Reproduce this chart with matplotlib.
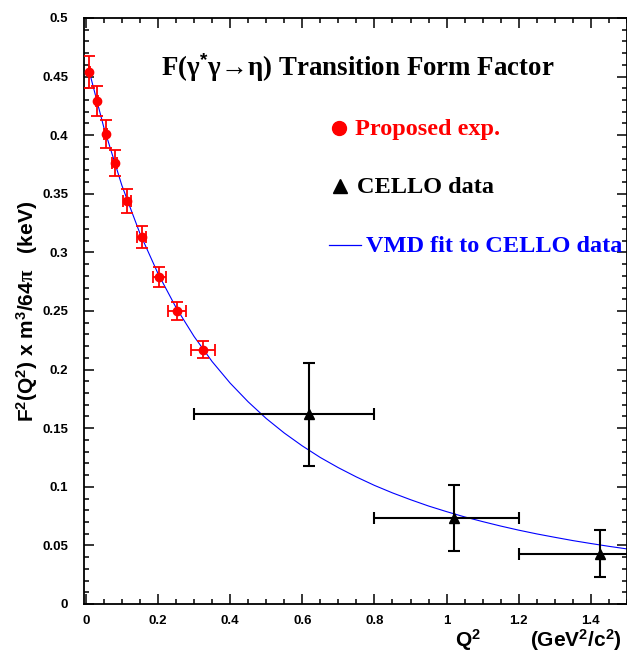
import numpy as np
import matplotlib
matplotlib.use("Agg")
import matplotlib.pyplot as plt
from matplotlib.lines import Line2D
from matplotlib.ticker import MultipleLocator, FuncFormatter

plt.rcParams['font.family'] = ['Liberation Sans', 'DejaVu Sans']
plt.rcParams['font.weight'] = 'bold'
plt.rcParams['mathtext.fontset'] = 'custom'
plt.rcParams['mathtext.rm'] = 'Liberation Sans:bold'
plt.rcParams['mathtext.bf'] = 'Liberation Sans:bold'
plt.rcParams['mathtext.it'] = 'Liberation Serif:bold'

# proposed experiment (red)
prop_q2 = [0.010, 0.031, 0.055, 0.080, 0.114, 0.155, 0.204, 0.254, 0.325]
prop_f = [0.454, 0.429, 0.401, 0.376, 0.344, 0.313, 0.279, 0.250, 0.217]
prop_ferr = [0.0135, 0.013, 0.012, 0.011, 0.010, 0.0095, 0.0087, 0.008, 0.007]
prop_qerr = [0.002, 0.004, 0.005, 0.007, 0.011, 0.013, 0.019, 0.025, 0.033]

# CELLO data (black)
cello_q2 = [0.62, 1.02, 1.425]
cello_f = [0.162, 0.0735, 0.043]
cello_ferr = [0.044, 0.028, 0.020]
cello_qlo = [0.32, 0.22, 0.225]
cello_qhi = [0.18, 0.18, 0.175]

# VMD fit curve
fit_q2 = [0.01, 0.05, 0.10, 0.15, 0.20, 0.25, 0.30, 0.35, 0.40, 0.45, 0.50,
          0.55, 0.60, 0.65, 0.70, 0.75, 0.80, 0.85, 0.90, 0.95, 1.00,
          1.05, 1.10, 1.15, 1.20, 1.25, 1.30, 1.35, 1.40, 1.45, 1.50]
fit_f = [0.4539, 0.4066, 0.3571, 0.3162, 0.2820, 0.2530, 0.2283, 0.2069, 0.1885, 0.1725, 0.1583,
         0.1459, 0.1349, 0.1250, 0.1163, 0.1084, 0.1012, 0.0948, 0.0890, 0.0836, 0.0788,
         0.0743, 0.0703, 0.0665, 0.0630, 0.0598, 0.0569, 0.0541, 0.0516, 0.0492, 0.0470]

W, H = 627, 653
serif = ['Liberation Serif', 'DejaVu Serif']


def px(x, y):
    return x / W, 1 - y / H


fig = plt.figure(figsize=(W / 100, H / 100), dpi=100)
ax = fig.add_axes([84 / W, 1 - 604 / H, 543 / W, 586 / H])

ax.plot(fit_q2, fit_f, color='#0000ff', lw=0.8, zorder=2)
ax.errorbar(prop_q2, prop_f, yerr=prop_ferr, xerr=prop_qerr, fmt='o', color='red',
            ms=6, elinewidth=1.3, capsize=4, capthick=1.3, zorder=3)
ax.errorbar(cello_q2, cello_f, yerr=cello_ferr, xerr=[cello_qlo, cello_qhi], fmt='^',
            color='black', ms=7, elinewidth=1.5, capsize=4.5, capthick=1.5, zorder=3)

ax.set_xlim(-0.005, 1.5)
ax.set_ylim(0, 0.5)
ax.xaxis.set_major_locator(MultipleLocator(0.2))
ax.xaxis.set_minor_locator(MultipleLocator(0.05))
ax.yaxis.set_major_locator(MultipleLocator(0.05))
ax.yaxis.set_minor_locator(MultipleLocator(0.01))
fmt = FuncFormatter(lambda v, p: '%g' % round(v, 6))
ax.xaxis.set_major_formatter(fmt)
ax.yaxis.set_major_formatter(fmt)
ax.tick_params(which='both', direction='in', top=True, right=True, width=1.1, labelsize=9.5)
ax.tick_params(which='major', length=7)
ax.tick_params(which='minor', length=3.8)
ax.tick_params(axis='y', pad=11.5)
ax.tick_params(axis='x', pad=8)
for s in ax.spines.values():
    s.set_linewidth(1.3)

# title
fig.text(*px(161, 76), r'F($\gamma^{*}$γ→η) Transition Form Factor',
         family=serif, weight='bold', fontsize=19.4, va='baseline')

# legend
fig.add_artist(Line2D([px(339, 0)[0]], [px(0, 128)[1]], marker='o', color='red', ms=10, ls=''))
fig.text(*px(355, 135.5), 'Proposed exp.', family=serif, weight='bold',
         fontsize=17.5, color='red', va='baseline')
fig.add_artist(Line2D([px(340, 0)[0]], [px(0, 186)[1]], marker='^', color='black', ms=10, ls=''))
fig.text(*px(357, 193), 'CELLO data', family=serif, weight='bold',
         fontsize=17.5, color='black', va='baseline')
fig.add_artist(Line2D([px(329, 0)[0], px(361, 0)[0]], [px(0, 245)[1]] * 2, color='#0000ff', lw=0.9))
fig.text(*px(366, 251.5), 'VMD fit to CELLO data', family=serif, weight='bold',
         fontsize=17.5, color='#0000ff', va='baseline')

# axis labels
fig.text(*px(27, 311), r'F$^{2}$(Q$^{2}$) x m$^{3}$/64$\pi$   (keV)', rotation=90,
         ha='center', va='center', fontsize=15)
fig.text(*px(455, 647), r'Q$^{2}$', fontsize=15, va='baseline')
fig.text(*px(530, 647), r'(GeV$^{2}$/c$^{2}$)', fontsize=15, va='baseline')

fig.savefig('out.png', dpi=100)
